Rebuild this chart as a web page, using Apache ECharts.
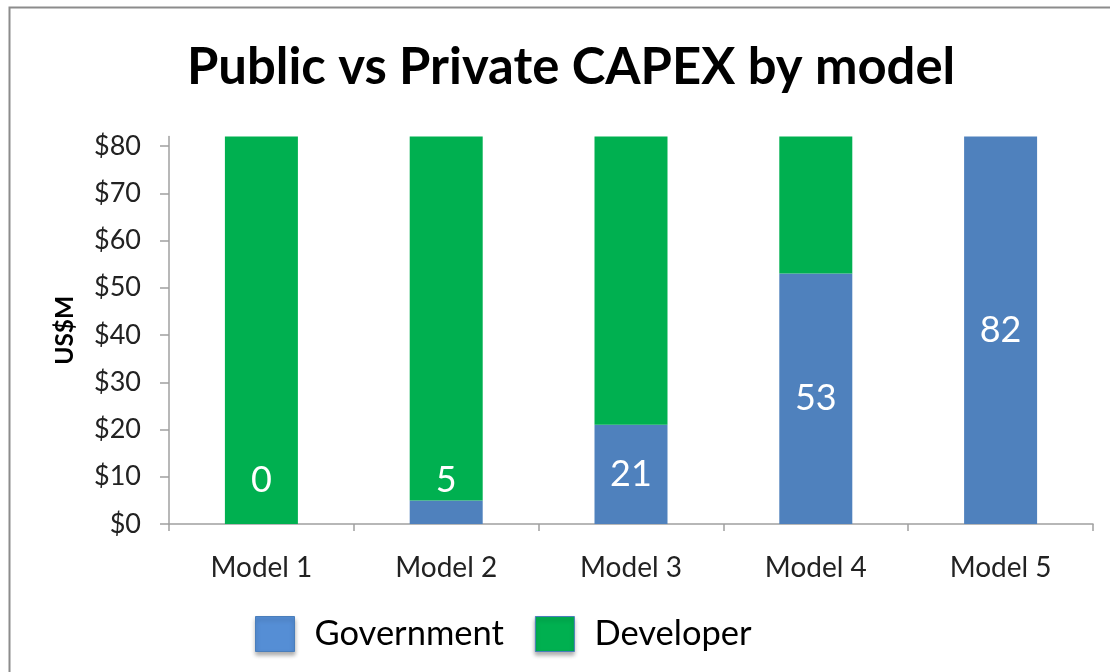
<!DOCTYPE html>
<html>
<head>
<meta charset="utf-8">
<title>Public vs Private CAPEX by model</title>
<script src="https://cdn.jsdelivr.net/npm/echarts@6/dist/echarts.min.js"></script>
<style>
  html, body { margin: 0; padding: 0; background: #fff; }
  #chart { width: 1110px; height: 672px; }
</style>
</head>
<body>
<div id="chart"></div>
<script>
// chart data
var models = ['Model 1', 'Model 2', 'Model 3', 'Model 4', 'Model 5']
var government = [0, 5, 21, 53, 82]
var developer = [82, 77, 61, 29, 0]
var yTicks = [0, 10, 20, 30, 40, 50, 60, 70, 80]

var FONT = 'Lato, "Open Sans", sans-serif'
var BLUE = '#4F81BD'
var GREEN = '#00B050'
var AXIS = '#A0A0A0'

var chart = echarts.init(document.getElementById('chart'), null, { renderer: 'canvas' })

// small bars get their label lifted above the bar, like excel does
var govData = government.map(function(v) {
  if (v < 10) {
    return { value: v, label: { position: 'insideBottom', distance: 26 } }
  }
  return v
})

chart.setOption({
  animation: false,
  backgroundColor: '#fff',
  title: {
    text: 'Public vs Private CAPEX by model',
    left: 182,
    top: 37,
    textStyle: {
      fontFamily: FONT,
      fontWeight: 'bold',
      fontSize: 50.8,
      color: '#000'
    }
  },
  graphic: [{
    type: 'rect',
    left: 7,
    top: 5,
    shape: { width: 1120, height: 700 },
    style: { fill: 'none', stroke: '#8C8C8C', lineWidth: 2 },
    silent: true
  }],
  legend: {
    data: [
      { name: 'Government', itemStyle: { color: '#558ED5' } },
      { name: 'Developer', itemStyle: { color: GREEN } }
    ],
    left: 250,
    top: 611,
    icon: 'rect',
    itemWidth: 39,
    itemHeight: 35,
    itemGap: 31,
    itemStyle: {
      borderColor: '#4A7EBB',
      borderWidth: 1,
      shadowBlur: 4,
      shadowOffsetY: 3,
      shadowColor: 'rgba(0,0,0,0.3)'
    },
    textStyle: {
      fontFamily: FONT,
      fontSize: 34.5,
      color: '#000',
      padding: [0, 0, 0, 15]
    }
  },
  grid: {
    left: 169,
    right: 17,
    top: 136.6,
    bottom: 148
  },
  xAxis: {
    type: 'category',
    data: models,
    axisLine: { lineStyle: { color: AXIS, width: 1.5 } },
    axisTick: { show: true, length: 7, lineStyle: { color: AXIS, width: 1.5 } },
    axisLabel: {
      fontFamily: FONT,
      fontSize: 28,
      color: '#222',
      margin: 30
    }
  },
  yAxis: {
    type: 'value',
    min: 0,
    max: 82,
    interval: 10,
    name: 'US$M',
    nameLocation: 'middle',
    nameGap: 91,
    nameTextStyle: {
      fontFamily: FONT,
      fontWeight: 'bold',
      fontSize: 24.5,
      color: '#000'
    },
    splitLine: { show: false },
    axisLine: { show: true, lineStyle: { color: AXIS, width: 1.5 } },
    axisTick: {
      show: true,
      length: 9,
      customValues: yTicks,
      lineStyle: { color: AXIS, width: 1.5 }
    },
    axisLabel: {
      customValues: yTicks,
      fontFamily: FONT,
      fontSize: 27,
      color: '#222',
      margin: 28,
      formatter: '${value}'
    }
  },
  series: [{
    name: 'Government',
    type: 'bar',
    stack: 'capex',
    barWidth: 73,
    data: govData,
    itemStyle: { color: BLUE },
    label: {
      show: true,
      position: 'inside',
      color: '#fff',
      fontFamily: FONT,
      fontSize: 36
    }
  },
  {
    name: 'Developer',
    type: 'bar',
    stack: 'capex',
    barWidth: 73,
    data: developer,
    itemStyle: { color: GREEN }
  }]
})
</script>
</body>
</html>
